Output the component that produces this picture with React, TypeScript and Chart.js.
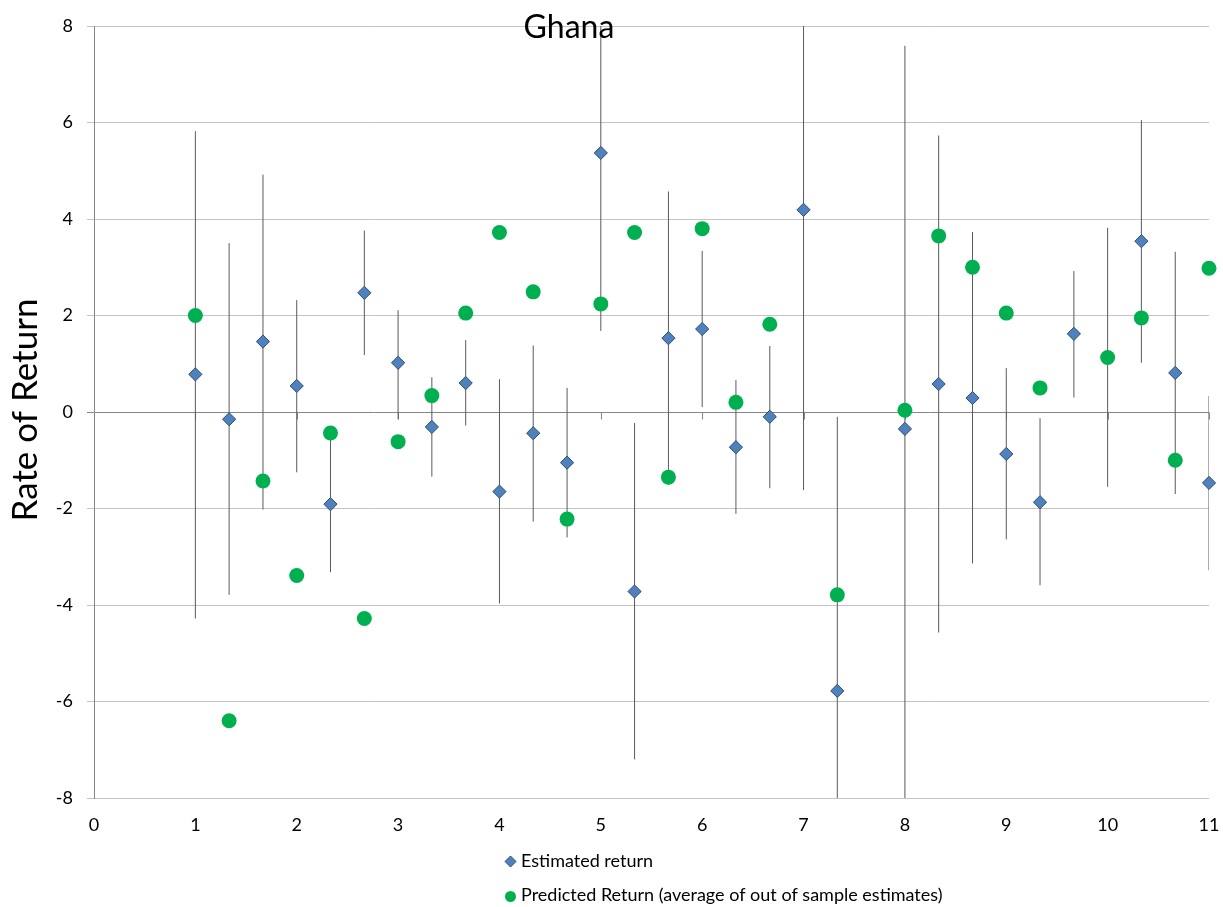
import { useEffect, useRef } from 'react';
import { Chart, registerables } from 'chart.js';

Chart.register(...registerables);

// ---- Data ----
const xPositions = [1, 1.333, 1.667, 2, 2.333, 2.667, 3, 3.333, 3.667, 4, 4.333, 4.667, 5, 5.333, 5.667, 6, 6.333, 6.667, 7, 7.333, 7.667, 8, 8.333, 8.667, 9, 9.333, 9.667, 10, 10.333, 10.667, 11];
const estimatedReturn = [0.78, -0.15, 1.46, 0.54, -1.91, 2.47, 1.02, -0.31, 0.6, -1.65, -0.44, -1.05, 5.37, -3.72, 1.53, 1.72, -0.73, -0.1, 4.19, -5.78, null, -0.35, 0.58, 0.29, -0.87, -1.87, 1.62, 1.13, 3.54, 0.81, -1.47];
const errorLow = [-4.28, -3.79, -2.02, -1.25, -3.32, 1.18, -0.15, -1.34, -0.28, -3.97, -2.27, -2.6, 1.68, -7.2, -1.51, 0.1, -2.11, -1.58, -1.62, -11.46, null, -8.29, -4.57, -3.14, -2.64, -3.59, 0.3, -1.55, 1.02, -1.7, -3.28];
const errorHigh = [5.82, 3.5, 4.92, 2.32, -0.5, 3.76, 2.11, 0.72, 1.49, 0.68, 1.38, 0.5, 9.06, -0.23, 4.57, 3.34, 0.66, 1.37, 10.0, -0.1, null, 7.59, 5.73, 3.73, 0.91, -0.13, 2.92, 3.82, 6.05, 3.32, 0.33];
const predictedReturn = [2.0, -6.4, -1.43, -3.39, -0.435, -4.28, -0.615, 0.34, 2.05, 3.72, 2.49, -2.22, 2.24, 3.72, -1.35, 3.8, 0.2, 1.82, null, -3.79, null, 0.035, 3.65, 3.0, 2.05, 0.5, null, 1.13, 1.95, -1.0, 2.98];

const chartTitle = 'Ghana';
const yAxisTitle = 'Rate of Return';
const seriesNames = ['Estimated return', 'Predicted Return (average of out of sample estimates)'];

const FONT = 'Lato, "Open Sans", sans-serif';
const BLUE = '#4f81bd';
const BLUE_EDGE = '#2c4d75';
const GREEN = '#00b050';
const AXIS = '#868686';
const GRID = '#c4c4c4';

function toPoints(values: (number | null)[]) {
  const pts: { x: number; y: number }[] = [];
  values.forEach((v, i) => {
    if (v !== null && v !== undefined) pts.push({ x: xPositions[i], y: v });
  });
  return pts;
}

const decorPlugin = {
  id: 'decor',
  beforeDatasetsDraw(chart: any) {
    const { ctx, chartArea, scales } = chart;
    const xs = scales.x;
    const ys = scales.y;
    ctx.save();
    // tick marks on the horizontal axis (at y = 0)
    ctx.strokeStyle = AXIS;
    ctx.lineWidth = 1;
    const y0 = Math.round(ys.getPixelForValue(0)) + 0.5;
    ctx.beginPath();
    for (let v = 1; v <= 11; v++) {
      const px = Math.round(xs.getPixelForValue(v)) + 0.5;
      ctx.moveTo(px, y0);
      ctx.lineTo(px, y0 + 7);
    }
    ctx.stroke();
    // error bars
    ctx.beginPath();
    ctx.rect(chartArea.left, chartArea.top, chartArea.right - chartArea.left, chartArea.bottom - chartArea.top);
    ctx.clip();
    ctx.strokeStyle = '#5a5a5a';
    ctx.lineWidth = 1;
    ctx.beginPath();
    xPositions.forEach((xv, i) => {
      const lo = errorLow[i];
      const hi = errorHigh[i];
      if (lo === null || hi === null) return;
      const px = xs.getPixelForValue(xv);
      ctx.moveTo(px, ys.getPixelForValue(hi));
      ctx.lineTo(px, ys.getPixelForValue(lo));
    });
    ctx.stroke();
    ctx.restore();
  },
  afterDraw(chart: any) {
    const { ctx } = chart;
    ctx.save();
    ctx.fillStyle = '#000';
    // chart title
    ctx.font = `32px ${FONT}`;
    ctx.textAlign = 'center';
    ctx.textBaseline = 'alphabetic';
    ctx.fillText(chartTitle, 569, 38);
    // y axis title
    ctx.save();
    ctx.translate(37, 410);
    ctx.rotate(-Math.PI / 2);
    ctx.font = `35px ${FONT}`;
    ctx.fillText(yAxisTitle, 0, 0);
    ctx.restore();
    // legend
    ctx.font = `18px ${FONT}`;
    ctx.textAlign = 'left';
    // diamond
    const dx = 510.5, dy = 861.5, r = 5.5;
    ctx.beginPath();
    ctx.moveTo(dx - r, dy);
    ctx.lineTo(dx, dy - r);
    ctx.lineTo(dx + r, dy);
    ctx.lineTo(dx, dy + r);
    ctx.closePath();
    ctx.fillStyle = BLUE;
    ctx.fill();
    ctx.strokeStyle = BLUE_EDGE;
    ctx.lineWidth = 1;
    ctx.stroke();
    ctx.fillStyle = '#000';
    ctx.fillText(seriesNames[0], 521, 867);
    // circle
    ctx.beginPath();
    ctx.arc(510.5, 896.5, 5.5, 0, Math.PI * 2);
    ctx.fillStyle = GREEN;
    ctx.fill();
    ctx.fillStyle = '#000';
    ctx.fillText(seriesNames[1], 521, 901);
    ctx.restore();
  },
};

export default function App() {
  const canvasRef = useRef<HTMLCanvasElement | null>(null);

  useEffect(() => {
    document.body.style.margin = '0';
    let chart: Chart | null = null;
    let cancelled = false;

    const build = () => {
      if (cancelled || !canvasRef.current) return;
      chart = new Chart(canvasRef.current, {
        type: 'scatter',
        data: {
          datasets: [
            {
              label: seriesNames[0],
              data: toPoints(estimatedReturn),
              order: 2,
              pointStyle: 'rectRot',
              pointRadius: 6.6,
              pointHoverRadius: 6.6,
              backgroundColor: BLUE,
              borderColor: BLUE_EDGE,
              borderWidth: 1,
              showLine: false,
              clip: false,
            },
            {
              label: seriesNames[1],
              data: toPoints(predictedReturn),
              order: 1,
              pointStyle: 'circle',
              pointRadius: 7.5,
              pointHoverRadius: 7.5,
              backgroundColor: GREEN,
              borderColor: GREEN,
              borderWidth: 0,
              showLine: false,
              clip: false,
            },
          ],
        },
        options: {
          responsive: false,
          animation: false,
          events: [],
          layout: { padding: { top: 26, right: 14, left: 0, bottom: 0 } },
          plugins: {
            legend: { display: false },
            title: { display: false },
            tooltip: { enabled: false },
          },
          scales: {
            x: {
              type: 'linear',
              min: 0,
              max: 11,
              ticks: {
                stepSize: 1,
                color: '#000',
                font: { family: FONT, size: 18 },
                padding: 16,
                maxRotation: 0,
              },
              grid: { display: false, drawTicks: false },
              border: { display: false },
              afterFit: (scale: any) => {
                scale.height = 109;
                scale.paddingLeft = 0;
                scale.paddingRight = 0;
              },
            },
            y: {
              type: 'linear',
              min: -8,
              max: 8,
              ticks: {
                stepSize: 2,
                color: '#000',
                font: { family: FONT, size: 18 },
                padding: 14,
              },
              grid: {
                color: (c: any) => (c.tick && c.tick.value === 0 ? AXIS : GRID),
                tickColor: (c: any) => (c.tick && c.tick.value === 0 ? AXIS : GRID),
                tickLength: 7,
                lineWidth: 1,
              },
              border: { display: true, color: AXIS, width: 1 },
              afterFit: (scale: any) => {
                scale.width = 94;
                scale.paddingTop = 0;
                scale.paddingBottom = 0;
              },
            },
          },
        },
        plugins: [decorPlugin],
      } as any);
    };

    const fonts = (document as any).fonts;
    if (fonts && fonts.load) {
      Promise.all([fonts.load(`18px Lato`), fonts.load(`32px Lato`)])
        .catch(() => null)
        .then(build);
    } else {
      build();
    }

    return () => {
      cancelled = true;
      if (chart) chart.destroy();
    };
  }, []);

  return (
    <div style={{ width: 1223, height: 907, position: 'relative' }}>
      <canvas ref={canvasRef} width={1223} height={907} style={{ display: 'block' }} />
    </div>
  );
}
